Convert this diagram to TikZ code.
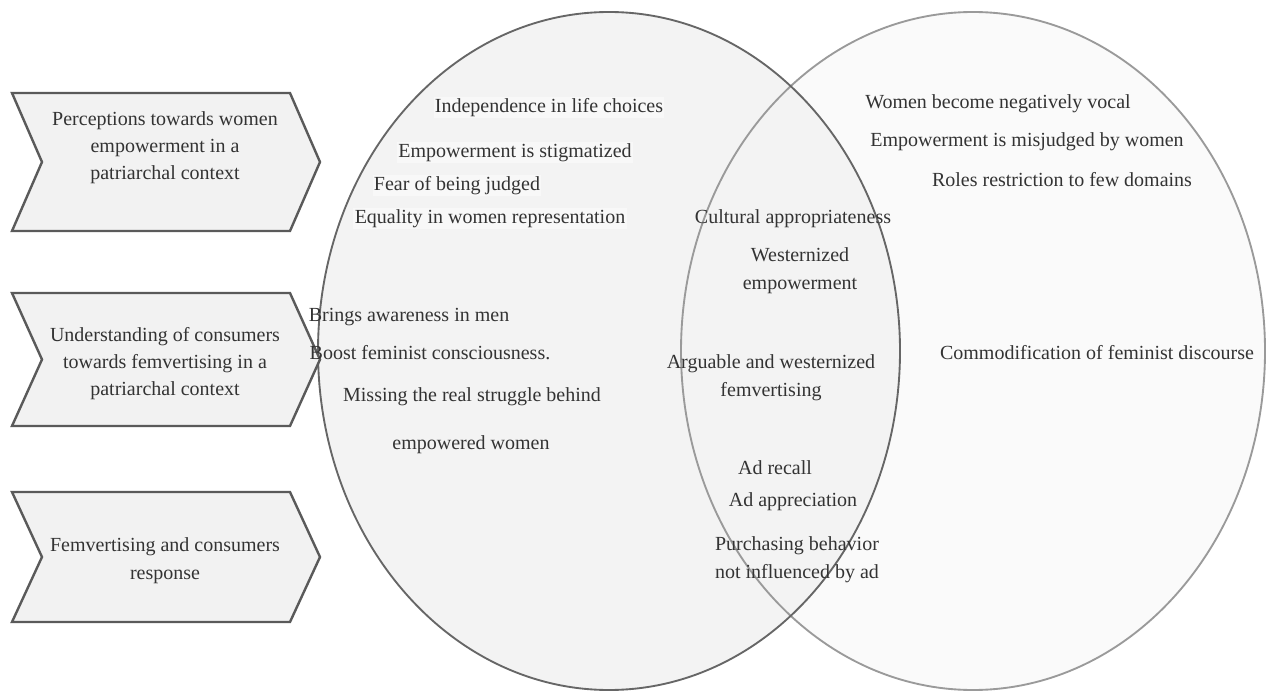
\documentclass[tikz,border=0pt]{standalone}
\usepackage{fontspec}
\setmainfont{Liberation Serif}
\definecolor{leftfill}{HTML}{F3F3F3}
\definecolor{rightfill}{HTML}{FAFAFA}
\definecolor{leftline}{HTML}{666666}
\definecolor{rightline}{HTML}{9A9A9A}
\definecolor{chevfill}{HTML}{F2F2F2}
\definecolor{chevline}{HTML}{5A5A5A}
\definecolor{boxfill}{HTML}{F8F8F8}
\definecolor{txtgray}{HTML}{333333}
\tikzset{
  item/.style={font=\fontsize{15}{20.5}\selectfont, text=txtgray, inner sep=1pt, yshift=-2pt},
  lbox/.style={item, fill=boxfill},
  chevron/.style={fill=chevfill, draw=chevline, line width=1.8pt, line join=miter}
}

\begin{document}
\begin{tikzpicture}[x=0.75pt, y=-0.75pt]
  \useasboundingbox (0,0) rectangle (1269,691);

  % two overlapping ellipses
  \fill[rightfill] (973,351) ellipse [x radius=292, y radius=339];
  \fill[leftfill] (609,351) ellipse [x radius=291, y radius=339];
  \draw[rightline, line width=1.4pt] (973,351) ellipse [x radius=292, y radius=339];
  \draw[leftline, line width=1.4pt] (609,351) ellipse [x radius=291, y radius=339];

  % chevrons on the left
  \foreach \top/\bot in {93/231, 293/426, 492/622}
    \draw[chevron] (12,\top) -- (290,\top) -- (320,{(\top+\bot)/2}) -- (290,\bot)
      -- (12,\bot) -- (42,{(\top+\bot)/2}) -- cycle;

  \node[item, align=center] (perc) at (165,145) {Perceptions towards women\\empowerment in a\\patriarchal context};
  \node[item, align=center] (underst) at (165,361) {Understanding of consumers\\towards femvertising in a\\patriarchal context};
  \node[item, align=center] (femresp) at (165,558) {Femvertising and consumers\\response};

  % left ellipse
  \node[lbox] (indep) at (549,105) {Independence in life choices};
  \node[lbox] (stigma) at (515,150) {Empowerment is stigmatized};
  \node[lbox] (fear) at (457,183) {Fear of being judged};
  \node[lbox] (equal) at (490,216) {Equality in women representation};
  \node[item] (aware) at (409,314) {Brings awareness in men};
  \node[item] (boost) at (430,350) {Boost feminist consciousness.};
  \node[item] (missing) at (472,394) {Missing the real struggle behind};
  \node[item] (empw) at (471,442) {empowered women};

  % overlap
  \node[item] (cultural) at (793,216) {Cultural appropriateness};
  \node[item, align=center] (western) at (800,268) {Westernized\\empowerment};
  \node[item, align=center] (arguable) at (771,375) {Arguable and westernized\\femvertising};
  \node[item] (recall) at (775,465) {Ad recall};
  \node[item] (apprec) at (793,499) {Ad appreciation};
  \node[item, align=center] (purch) at (797,557) {Purchasing behavior\\not influenced by ad};

  % right ellipse
  \node[item] (vocal) at (998,101) {Women become negatively vocal};
  \node[item] (misjudged) at (1027,139) {Empowerment is misjudged by women};
  \node[item] (roles) at (1062,177) {Roles restriction to few domains};
  \node[item] (commod) at (1097,350) {Commodification of feminist discourse};
\end{tikzpicture}
\end{document}
